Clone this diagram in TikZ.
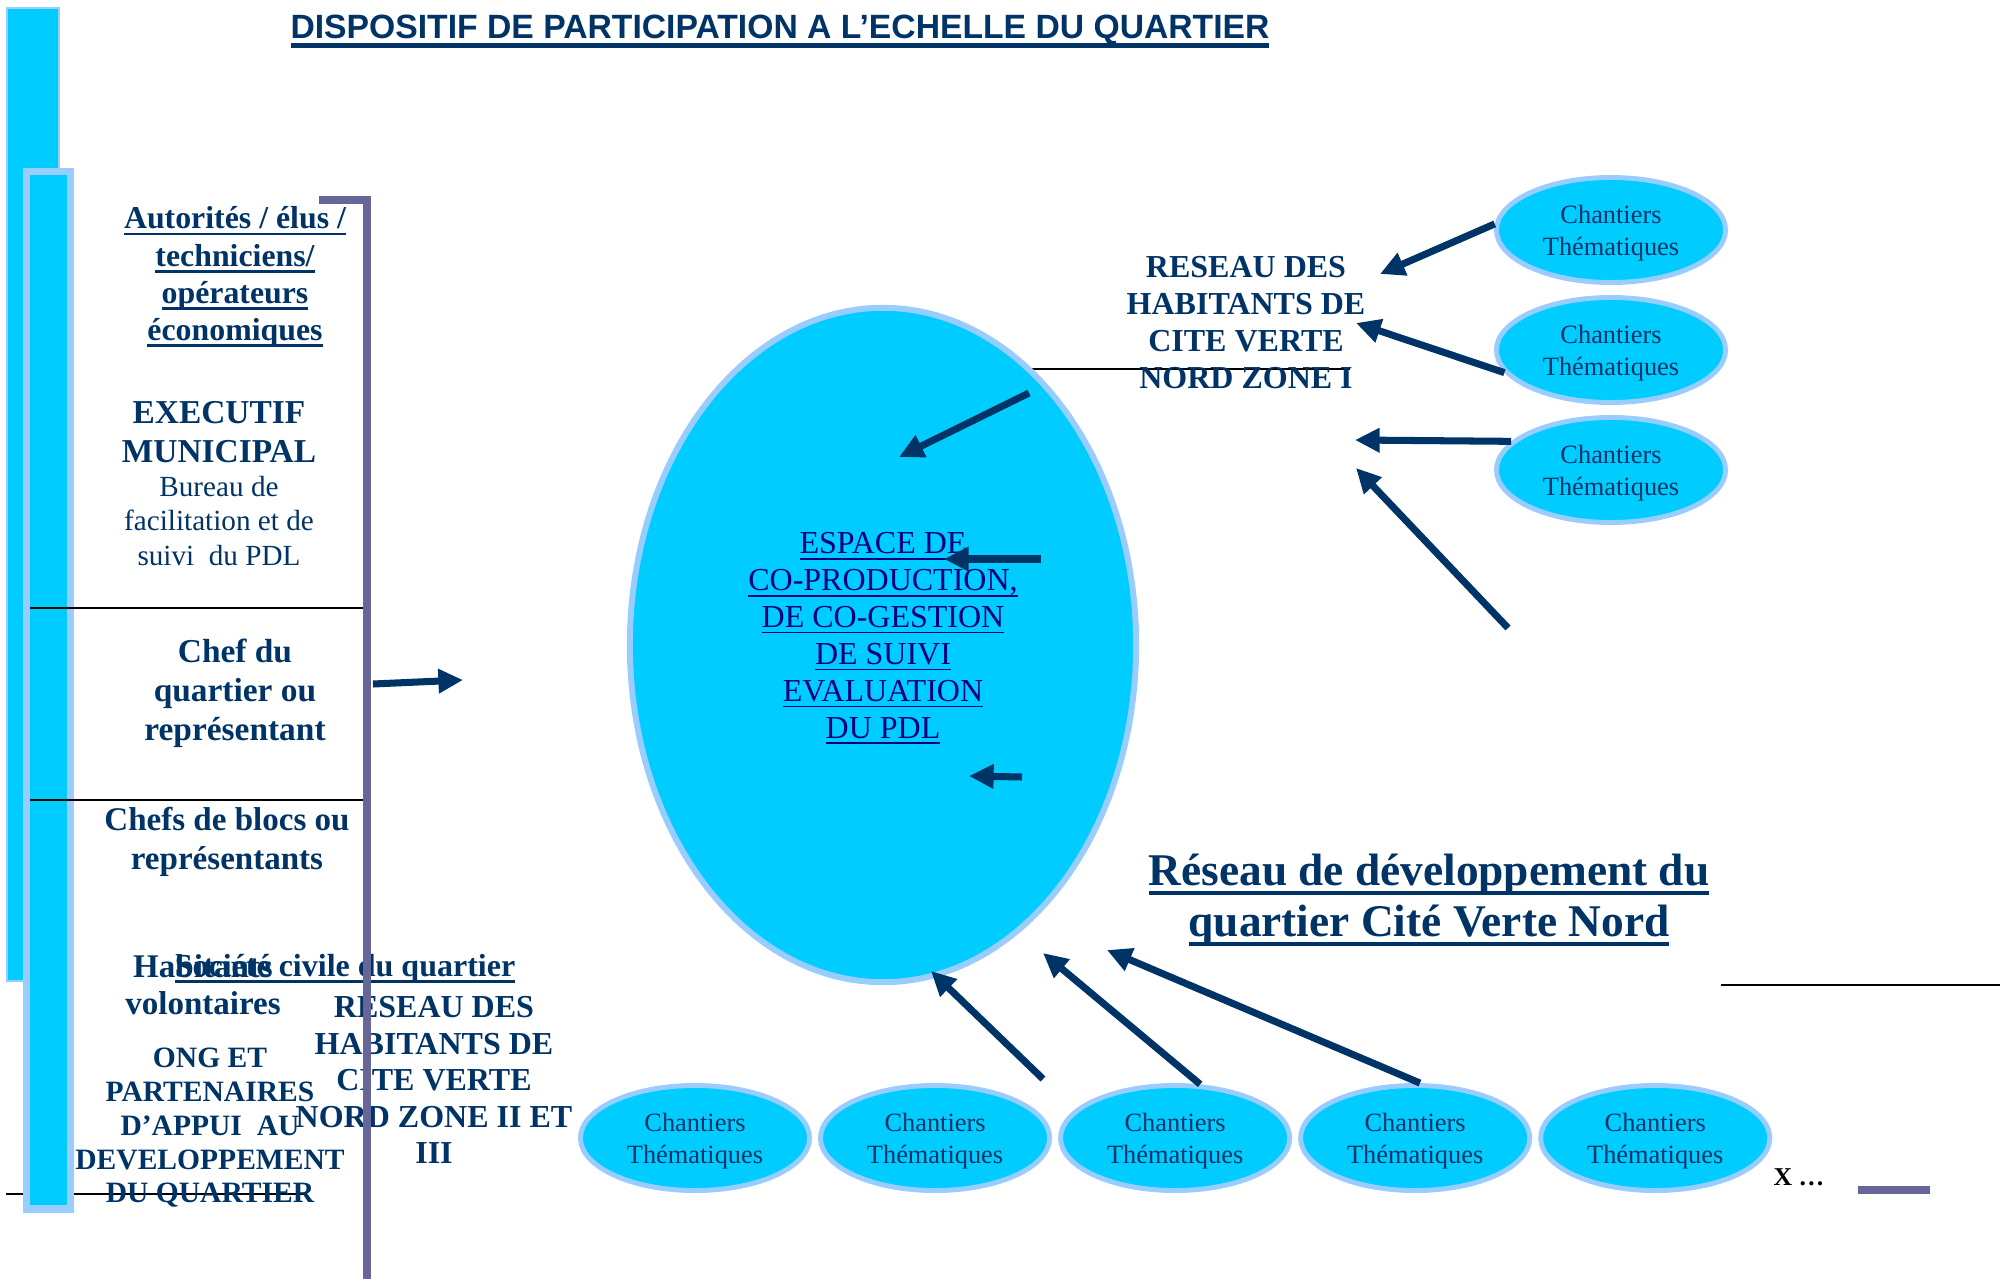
\documentclass[tikz,border=0pt]{standalone}
\usepackage{fontspec}
\setmainfont{Liberation Serif}
\setsansfont{Liberation Sans}
\usepackage{xcolor}
\usepackage{tikz}
\usetikzlibrary{shapes, arrows.meta, positioning}

\definecolor{cyanfill}{HTML}{00CCFF}
\definecolor{lightrim}{HTML}{99CCFF}
\definecolor{navy}{HTML}{003366}
\definecolor{linknavy}{HTML}{000080}
\definecolor{purpleline}{HTML}{666699}

\newcommand\souligne[2][0.8pt]{\leavevmode\setbox0=\hbox{#2}\copy0\kern-\wd0\rule[\dimexpr-0.12em-#1\relax]{\wd0}{#1}}
\newcommand\chant{\rule{0pt}{6.8pt}Chantiers\\ Thématiques}

\begin{document}
\begin{tikzpicture}[
        x=0.01cm, y=-0.01cm,
        chantier/.style={ellipse, draw=lightrim, fill=cyanfill, line width=1.4pt,
            minimum width=2.29cm, minimum height=1.05cm, inner sep=0pt,
            align=center, text=navy, font=\fontsize{7.5}{9.1}\selectfont},
        bloc/.style={align=center, text=navy, inner sep=0pt,
            font=\bfseries\fontsize{9.4}{10.6}\selectfont},
        fleche/.style={draw=navy, line width=2pt, -{Triangle[length=7pt, width=6.6pt]}},
        trait/.style={draw=black, line width=0.5pt},
        cadre/.style={draw=purpleline, line width=2pt}
    ]
    \useasboundingbox (0,0) rectangle (2000,1279);

    % Title
    \node[anchor=base, text=navy, inner sep=0pt, font=\sffamily\bfseries\fontsize{9.58}{11}\selectfont] (titre) at (780,39)
        {\souligne[1.4pt]{DISPOSITIF DE PARTICIPATION A L’ECHELLE DU QUARTIER}};

    % Left bars
    \draw[trait] (6,1194) -- (306,1194);
    \draw[draw=lightrim, fill=cyanfill, line width=0.8pt] (7,8) rectangle (59,981);
    \draw[draw=lightrim, fill=cyanfill, line width=2pt] (26.5,171.5) rectangle (70.5,1209);
    \draw[trait] (30,608) -- (363,608);
    \draw[trait] (30,800) -- (363,800);

    % Left column
    \node[bloc, font=\bfseries\fontsize{9.05}{10.6}\selectfont] (autorites) at (235,277) {\souligne{Autorités / élus /}\\ \souligne{techniciens/}\\ \souligne{opérateurs}\\ \souligne{économiques}};
    \node[bloc, font=\bfseries\fontsize{9.5}{11.2}\selectfont] (executif) at (219,432) {EXECUTIF\\ MUNICIPAL};
    \node[bloc, font=\fontsize{8.3}{9.7}\selectfont] (bureau) at (219,521) {Bureau de\\ facilitation et de\\ suivi\ \ du PDL};
    \node[bloc, font=\bfseries\fontsize{9.5}{11.1}\selectfont] (chef) at (235,693.5) {Chef du\\ quartier ou\\ représentant};
    \node[bloc, font=\bfseries\fontsize{9.4}{11.2}\selectfont] (blocs) at (227,842) {Chefs de blocs ou\\ représentants};
    \node[bloc] (habitants) at (203,985) {Habitants\\ volontaires};
    \node[bloc, anchor=base, font=\bfseries\fontsize{9.1}{10.6}\selectfont] (societe) at (345,976) {\souligne[1pt]{Société civile du quartier}};
    \node[bloc, font=\bfseries\fontsize{8.4}{9.6}\selectfont] (ong) at (210,1128) {ONG ET\\ PARTENAIRES\\ D’APPUI\ \ AU\\ DEVELOPPEMENT\\ DU QUARTIER};
    \node[bloc, font=\bfseries\fontsize{9.1}{10.4}\selectfont] (zoneII) at (434,1080) {RESEAU DES\\ HABITANTS DE\\ CITE VERTE\\ NORD ZONE II ET\\ III};

    % Central space
    \draw[trait] (1000,369) -- (1350,369);
    \node[ellipse, draw=lightrim, fill=cyanfill, line width=1.7pt, minimum width=5.06cm, minimum height=6.74cm,
        inner sep=0pt] (espace) at (883,645) {};
    \node[align=center, inner sep=0pt, text=linknavy, font=\fontsize{9.1}{10.5}\selectfont] (espacetexte)
        at ([yshift=0.065cm]espace.center)
        {\souligne[0.5pt]{ESPACE DE}\\ \souligne[0.5pt]{CO-PRODUCTION,}\\ \souligne[0.5pt]{DE CO-GESTION}\\ \souligne[0.5pt]{DE SUIVI}\\ \souligne[0.5pt]{EVALUATION}\\ \souligne[0.5pt]{DU PDL}};
    \node[bloc, font=\bfseries\fontsize{9.1}{10.5}\selectfont] (zoneI) at (1246,322.5) {RESEAU DES\\ HABITANTS DE\\ CITE VERTE\\ NORD ZONE I};
    \node[bloc, font=\bfseries\fontsize{12.9}{14.5}\selectfont] (reseau) at (1429,900.5) {\souligne[1.1pt]{Réseau de développement du}\\ \souligne[1.1pt]{quartier Cité Verte Nord}};

    % Chantiers
    \node[chantier] (rc1) at (1611,230) {\chant};
    \node[chantier, below=0.1cm of rc1] (rc2) {\chant};
    \node[chantier, below=0.1cm of rc2] (rc3) {\chant};
    \node[chantier] (cb1) at (695,1138) {\chant};
    \node[chantier, right=0.06cm of cb1] (cb2) {\chant};
    \node[chantier, right=0.06cm of cb2] (cb3) {\chant};
    \node[chantier, right=0.06cm of cb3] (cb4) {\chant};
    \node[chantier, right=0.06cm of cb4] (cb5) {\chant};
    \node[text=black, inner sep=0pt, anchor=base west, font=\bfseries\fontsize{7.3}{9}\selectfont] (suite) at (1773,1185) {X …};
    \draw[trait] (1721,985) -- (2000,985);
    \draw[cadre, line width=2.3pt] (1858,1190) -- (1930,1190);

    % Arrow ends
    \coordinate (chefA) at (373,684);
    \coordinate (chefB) at (463,680);
    \coordinate (inA) at (1029,393);
    \coordinate (inB) at (899,457);
    \coordinate (inC) at (1041,559);
    \coordinate (inD) at (944,559);
    \coordinate (inE) at (1022,777);
    \coordinate (inF) at (969,776);
    \coordinate (zA) at (1380,274);
    \coordinate (zB) at (1356,323);
    \coordinate (zC) at (1355,440);
    \coordinate (zD) at (1508,628);
    \coordinate (zE) at (1356,468);
    \coordinate (bA) at (1043,1079);
    \coordinate (bB) at (931,971);
    \coordinate (bC) at (1043,953);
    \coordinate (bD) at (1107,950);

    % Arrows
    \draw[fleche] (chefA) -- (chefB);
    \draw[fleche] (inA) -- (inB);
    \draw[fleche] (inC) -- (inD);
    \draw[fleche] (inE) -- (inF);
    \draw[fleche] (rc1.177) -- (zA);
    \draw[fleche] (rc2.192) -- (zB);
    \draw[fleche] (rc3.164) -- (zC);
    \draw[fleche] (zD) -- (zE);
    \draw[fleche] (bA) -- (bB);
    \draw[fleche] (cb3.65) -- (bC);
    \draw[fleche] (cb4.85) -- (bD);

    % Purple frame
    \draw[cadre] (319,200) -- (367,200) -- (367,1279);
\end{tikzpicture}
\end{document}
